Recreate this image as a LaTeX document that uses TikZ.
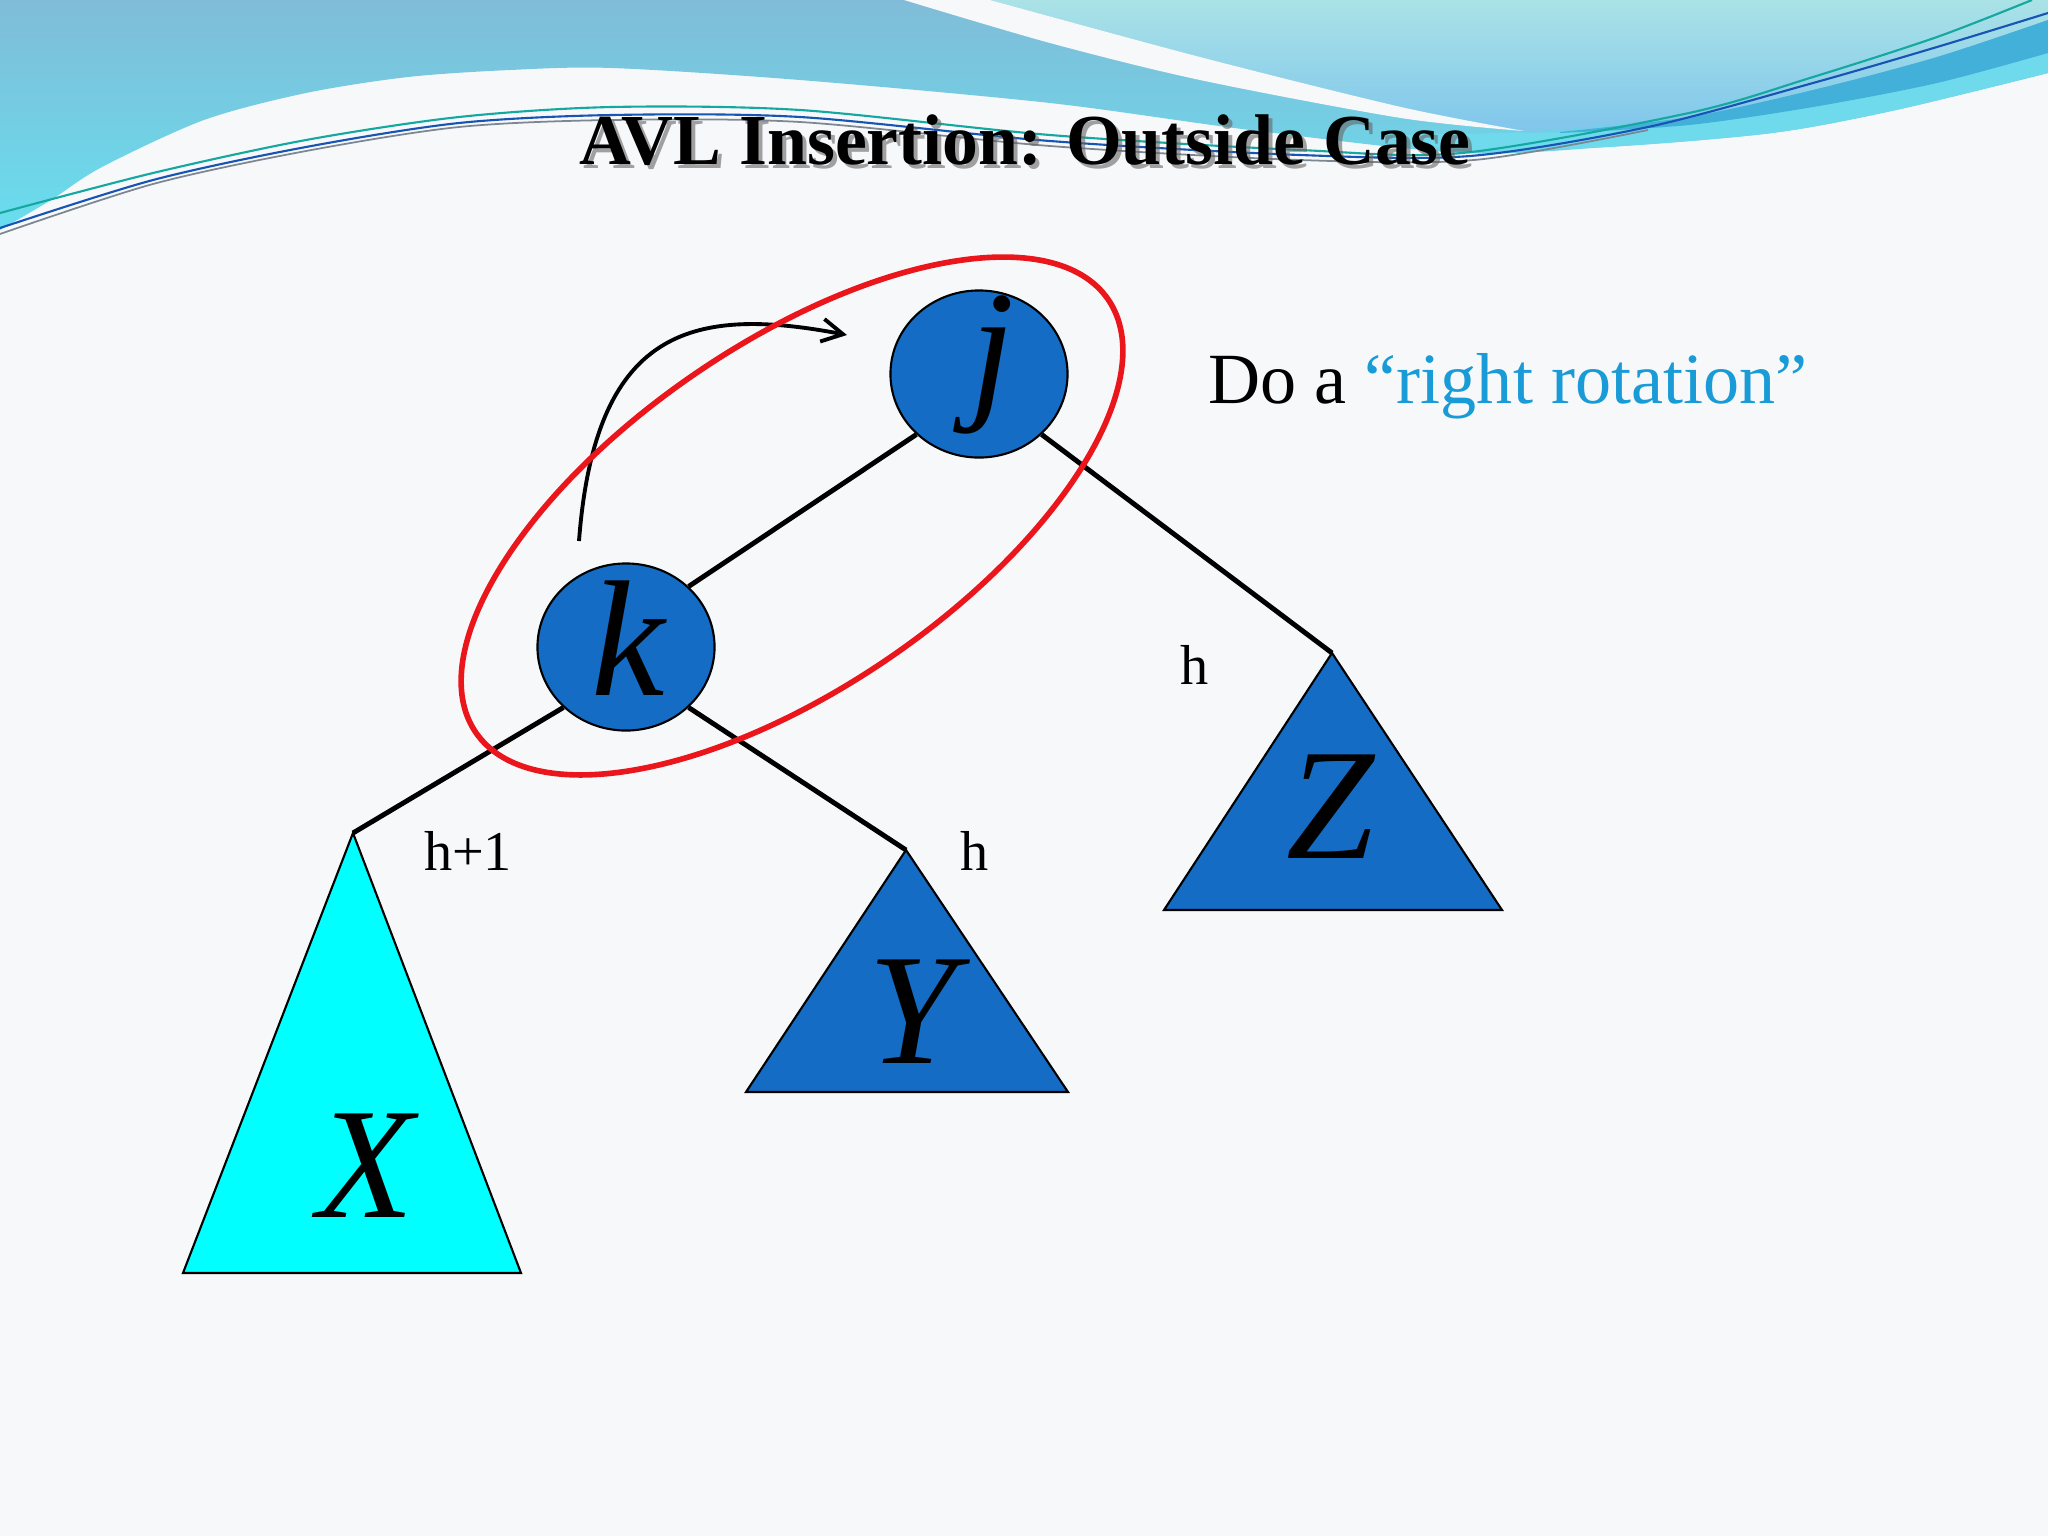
\documentclass[tikz,border=0pt]{standalone}
\usepackage{fontspec}
\setmainfont{Liberation Serif}
\usetikzlibrary{arrows.meta,shapes.geometric}
\definecolor{bg}{RGB}{247,248,250}
\definecolor{topA}{RGB}{128,188,216}
\definecolor{topB}{RGB}{104,222,238}
\definecolor{trA}{RGB}{170,226,230}
\definecolor{trB}{RGB}{128,198,236}
\definecolor{band}{RGB}{66,176,216}
\definecolor{lowband}{RGB}{110,218,236}
\definecolor{swteal}{RGB}{20,168,160}
\definecolor{swblue}{RGB}{24,84,180}
\definecolor{swgray}{RGB}{125,135,145}
\definecolor{nodeblue}{RGB}{20,108,196}
\definecolor{xcyan}{RGB}{0,255,255}
\definecolor{ringred}{RGB}{235,22,28}
\definecolor{rotblue}{RGB}{24,155,215}
\tikzset{
  treenode/.style={ellipse, draw=black, line width=0.6pt, fill=nodeblue, inner sep=0pt, minimum width=1.77cm, minimum height=1.67cm},
  edge/.style={line width=1.4pt, black},
  subtree/.style={draw=black, line width=0.6pt},
  bigletter/.style={font=\itshape\fontsize{45}{50}\selectfont, anchor=base, inner sep=0pt},
  hlabel/.style={font=\fontsize{16}{18}\selectfont, anchor=base, inner sep=0pt}
}
\begin{document}
\begin{tikzpicture}[x=0.01cm,y=-0.01cm]
\useasboundingbox (0,0) rectangle (2048,1536);
\fill[bg] (0,0) rectangle (2048,1536);
% header background
\shade[top color=topA, bottom color=topB] (0,0) -- (2048,0) -- (2048,73)
  -- plot[smooth] coordinates {(2048,73) (1896,110) (1772,133) (1607,147) (1462,153) (1250,130) (1050,103) (800,80) (612,68) (510,70) (408,77) (306,93) (204,120) (102,167) (51,200) (0,230)} -- cycle;
\fill[lowband] plot[smooth] coordinates {(1380,135) (1462,150) (1607,147) (1772,133) (1896,110) (2048,73)} -- (2048,40)
  -- plot[smooth] coordinates {(2048,40) (1850,95) (1650,128) (1500,133) (1380,135)} -- cycle;
\shade[top color=trA, bottom color=trB] (990,0) -- (2048,0) -- (2048,20)
  -- plot[smooth] coordinates {(2048,20) (1937,57) (1813,90) (1689,117) (1524,132)}
  -- plot[smooth] coordinates {(1524,132) (1401,107) (1200,57) (990,0)} -- cycle;
\fill[band] plot[smooth] coordinates {(1560,132) (1689,117) (1813,90) (1937,57) (2048,20)} -- (2048,53)
  -- plot[smooth] coordinates {(2048,53) (1937,83) (1813,107) (1689,125) (1560,133)} -- cycle;
\fill[bg] plot[smooth] coordinates {(904,0) (1050,43) (1200,80) (1401,118) (1524,131)}
  -- plot[smooth] coordinates {(1524,131) (1401,107) (1200,57) (990,0)} -- cycle;
\draw[swteal, line width=0.6pt] plot[smooth] coordinates {(0,213) (153,173) (306,140) (459,117) (612,107) (800,110) (1050,135) (1300,150) (1462,153) (1689,113) (1813,77) (1937,37) (2032,0)};
\draw[swblue, line width=0.6pt] plot[smooth] coordinates {(0,228) (153,180) (306,147) (459,123) (612,115) (800,117) (1050,141) (1300,155) (1470,156) (1648,127) (1813,83) (1937,47) (2048,13)};
\draw[swgray, line width=0.5pt] plot[smooth] coordinates {(0,234) (153,184) (306,151) (459,127) (612,120) (800,122) (1050,146) (1300,160) (1474,160) (1648,130)};
% title
\node[font=\bfseries\fontsize{20.4}{24}\selectfont, anchor=base, text=black!60, opacity=0.6] (titleshadow) at (1029,168) {AVL Insertion: Outside Case};
\node[font=\bfseries\fontsize{20.4}{24}\selectfont, anchor=base] (title) at (1025,164) {AVL Insertion: Outside Case};
% side text
\node[anchor=base west, inner sep=0pt, font=\fontsize{20.5}{24}\selectfont] (rot) at (1208,403) {Do a \textcolor{rotblue}{“right rotation”}};
% subtree apexes and triangles
\coordinate (xa) at (353,833);
\coordinate (xl) at (183,1273);
\coordinate (xr) at (521,1273);
\coordinate (ya) at (906,850);
\coordinate (yl) at (746,1092);
\coordinate (yr) at (1068,1092);
\coordinate (za) at (1332,653);
\coordinate (zl) at (1164,910);
\coordinate (zr) at (1502,910);
\filldraw[subtree, fill=xcyan] (xa) -- (xl) -- (xr) -- cycle;
\filldraw[subtree, fill=nodeblue] (ya) -- (yl) -- (yr) -- cycle;
\filldraw[subtree, fill=nodeblue] (za) -- (zl) -- (zr) -- cycle;
\node[bigletter] (xlab) at (366,1217) {X};
\node[bigletter] (ylab) at (912,1063) {Y};
\node[bigletter] (zlab) at (1330,858) {Z};
% tree nodes
\node[treenode] (j) at (979,374) {};
\node[treenode] (k) at (626,647) {};
\node[bigletter] (jlab) at (992,400) {j};
\node[bigletter, font=\itshape\fontsize{47}{50}\selectfont] (klab) at (628,695) {k};
% edges
\draw[edge] (k.44) -- (j.224);
\draw[edge] (j.316) -- (za);
\draw[edge] (k.224) -- (xa);
\draw[edge] (k.316) -- (ya);
% height labels
\node[hlabel] (hx) at (468,870) {h+1};
\node[hlabel] (hy) at (975,870) {h};
\node[hlabel] (hz) at (1195,684) {h};
% rotation arrow
\coordinate (as) at (579,541);
\coordinate (ae) at (847,335);
\draw[line width=1.1pt, -{Straight Barb[length=6pt,width=6.5pt]}] (as) .. controls (595,330) and (690,305) .. (ae);
% red ring
\draw[ringred, line width=1.6pt, rotate around={34.4:(792,516)}] (792,516) ellipse [x radius=3.83cm, y radius=1.72cm];
\end{tikzpicture}
\end{document}
